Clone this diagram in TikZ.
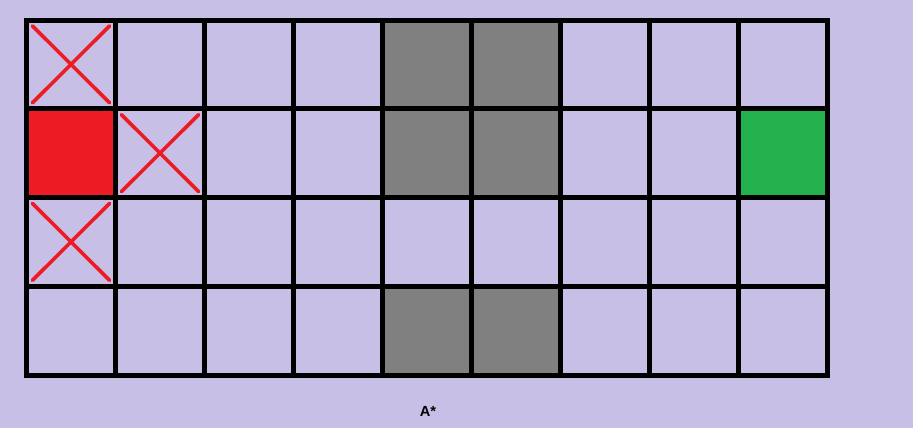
\documentclass[tikz,border=0pt]{standalone}
\usepackage{fontspec}
\setmainfont{Liberation Sans}
\definecolor{bgc}{RGB}{200,191,231}
\definecolor{redc}{RGB}{237,28,36}
\definecolor{greenc}{RGB}{34,177,76}
\definecolor{grayc}{RGB}{128,128,128}
\begin{document}
\begin{tikzpicture}[x=0.75pt,y=-0.75pt,
  cell/.style={draw=black,line width=3.75pt,minimum width=66.75pt,minimum height=66.56pt,inner sep=0pt,outer sep=0pt},
  cross/.style={draw=redc,line width=2.7pt,line cap=round}]
\fill[bgc] (0,0) rectangle (913,428);
\useasboundingbox (0,0) rectangle (913,428);
\foreach \i in {0,...,8}{
  \foreach \j in {0,...,3}{
    \pgfmathsetmacro{\cx}{26.5+89*\i+44.5}
    \pgfmathsetmacro{\cy}{20+88.75*\j+44.375}
    \def\fc{bgc}
    \ifnum\i=4 \ifnum\j=2 \else \def\fc{grayc}\fi\fi
    \ifnum\i=5 \ifnum\j=2 \else \def\fc{grayc}\fi\fi
    \ifnum\i=0 \ifnum\j=1 \def\fc{redc}\fi\fi
    \ifnum\i=8 \ifnum\j=1 \def\fc{greenc}\fi\fi
    \node[cell,fill=\fc] (c-\i-\j) at (\cx,\cy) {};
  }
}
\foreach \p in {0-0,1-1,0-2}{
  \draw[cross] ([shift={(6,6)}]c-\p.north west) -- ([shift={(-6,-6)}]c-\p.south east);
  \draw[cross] ([shift={(-6,6)}]c-\p.north east) -- ([shift={(6,-6)}]c-\p.south west);
}
\node[font=\bfseries\fontsize{11pt}{13pt}\selectfont,inner sep=0pt] (title) at (428,411) {A*};
\end{tikzpicture}
\end{document}
